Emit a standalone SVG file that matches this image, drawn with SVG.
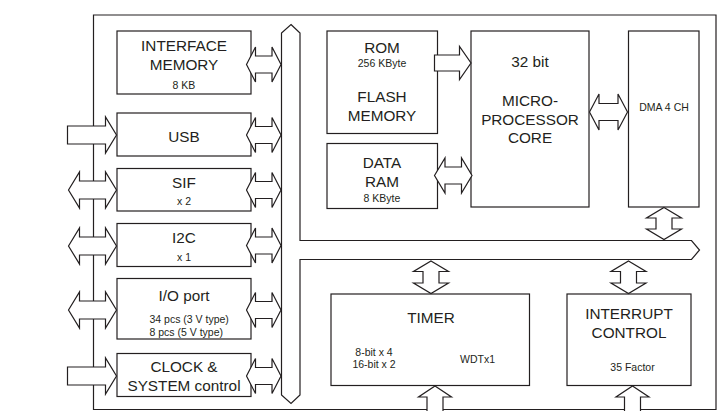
<svg xmlns="http://www.w3.org/2000/svg" width="717" height="411" viewBox="0 0 717 411">
<style>
.ln{fill:none;stroke:#231f20;stroke-width:1.2}
.bx{fill:#fff;stroke:#231f20;stroke-width:1.2}
.ar{fill:#fff;stroke:#231f20;stroke-width:1.2;stroke-linejoin:miter}
text{font-family:"Liberation Sans",Arial,Helvetica,sans-serif;fill:#231f20;text-anchor:middle}
.L{font-size:15.3px}
.S{font-size:10.5px}
</style>
<rect width="717" height="411" fill="#fff"/>
<g id="frame"><path class="ln" d="M93.5 409.5 L93.5 15 L716 15 L716 409.5 Z"/></g>
<g id="bus"><path class="ar" d="M291 24.5 L300 33 L300 240.5 L691.5 240.5 L699.5 250 L691.5 259.5 L300 259.5 L300 395 L291 403.5 L281.5 395 L281.5 33 Z"/></g>
<g id="interface-memory"><rect class="bx" x="117" y="31" width="134" height="63"/>
<text class="L" x="184" y="50.5">INTERFACE</text><text class="L" x="184" y="70">MEMORY</text><text class="S" x="184" y="89">8 KB</text></g>
<g id="usb"><rect class="bx" x="117" y="113" width="134" height="43"/><text class="L" x="184" y="141.7">USB</text></g>
<g id="sif"><rect class="bx" x="117" y="168.5" width="134" height="42.5"/><text class="L" x="184" y="187.5">SIF</text><text class="S" x="184" y="205">x 2</text></g>
<g id="i2c"><rect class="bx" x="117" y="223.5" width="134" height="43"/><text class="L" x="184" y="242.5">I2C</text><text class="S" x="184" y="260.7">x 1</text></g>
<g id="io-port"><rect class="bx" x="117" y="278.5" width="134" height="60.5"/><text class="L" x="184" y="300.5">I/O port</text>
<text class="S" x="149.5" y="322.5" style="text-anchor:start">34 pcs (3 V type)</text><text class="S" x="149.5" y="335.5" style="text-anchor:start">8 pcs (5 V type)</text></g>
<g id="clock"><rect class="bx" x="117" y="353.5" width="134" height="43"/><text class="L" x="184" y="372.3">CLOCK &amp;</text><text class="L" x="184" y="391">SYSTEM control</text></g>
<g id="flash"><rect class="bx" x="327" y="31" width="110.5" height="102.5"/><text class="L" x="382" y="53">ROM</text><text class="S" x="382" y="66.7">256 KByte</text><text class="L" x="382" y="101.7">FLASH</text><text class="L" x="382" y="120.5">MEMORY</text></g>
<g id="data-ram"><rect class="bx" x="327" y="143.5" width="110.5" height="65"/><text class="L" x="382" y="168.3">DATA</text><text class="L" x="382" y="187.3">RAM</text><text class="S" x="382" y="201.7">8 KByte</text></g>
<g id="cpu"><rect class="bx" x="471" y="31" width="118" height="176"/><text class="L" x="530" y="66.7">32 bit</text><text class="L" x="530" y="106">MICRO-</text><text class="L" x="530" y="125">PROCESSOR</text><text class="L" x="530" y="143.3">CORE</text></g>
<g id="dma"><rect class="bx" x="628.5" y="31" width="70.5" height="176"/><text class="S" x="664" y="111">DMA 4 CH</text></g>
<g id="timer"><rect class="bx" x="331" y="294" width="198.5" height="91.5"/><text class="L" x="431" y="323.3">TIMER</text><text class="S" x="374" y="356">8-bit x 4</text><text class="S" x="374" y="368.3">16-bit x 2</text><text class="S" x="477.5" y="363.3">WDTx1</text></g>
<g id="interrupt"><rect class="bx" x="567" y="294" width="124" height="91.5"/><text class="L" x="629" y="319.3">INTERRUPT</text><text class="L" x="629" y="338.3">CONTROL</text><text class="S" x="632.5" y="370.7">35 Factor</text></g>
<g id="connectors">
<path class="ar" d="M246.5 64.5 L255.5 47 L255.5 56 L272 56 L272 47 L281 64.5 L272 82 L272 73 L255.5 73 L255.5 82 Z"/>
<path class="ar" d="M246.5 135 L255.5 117.5 L255.5 126.5 L272 126.5 L272 117.5 L281 135 L272 152.5 L272 143.5 L255.5 143.5 L255.5 152.5 Z"/>
<path class="ar" d="M246.5 190 L255.5 172.5 L255.5 181.5 L272 181.5 L272 172.5 L281 190 L272 207.5 L272 198.5 L255.5 198.5 L255.5 207.5 Z"/>
<path class="ar" d="M246.5 245.5 L255.5 228 L255.5 237 L272 237 L272 228 L281 245.5 L272 263 L272 254 L255.5 254 L255.5 263 Z"/>
<path class="ar" d="M246.5 310 L255.5 292.5 L255.5 301.5 L272 301.5 L272 292.5 L281 310 L272 327.5 L272 318.5 L255.5 318.5 L255.5 327.5 Z"/>
<path class="ar" d="M246.5 376 L255.5 358.5 L255.5 367.5 L272 367.5 L272 358.5 L281 376 L272 393.5 L272 384.5 L255.5 384.5 L255.5 393.5 Z"/>
<path class="ar" d="M67.5 126 L105.5 126 L105.5 117 L116.5 135 L105.5 153 L105.5 144 L67.5 144 Z"/>
<path class="ar" d="M68.5 190 L79.5 172 L79.5 181 L105.5 181 L105.5 172 L116.5 190 L105.5 208 L105.5 199 L79.5 199 L79.5 208 Z"/>
<path class="ar" d="M68.5 246 L79.5 228 L79.5 237 L105.5 237 L105.5 228 L116.5 246 L105.5 264 L105.5 255 L79.5 255 L79.5 264 Z"/>
<path class="ar" d="M68.5 310 L79.5 292 L79.5 301 L105.5 301 L105.5 292 L116.5 310 L105.5 328 L105.5 319 L79.5 319 L79.5 328 Z"/>
<path class="ar" d="M67.5 367 L105.5 367 L105.5 358 L116.5 376 L105.5 394 L105.5 385 L67.5 385 Z"/>
<path class="ar" d="M434.5 55 L459.5 55 L459.5 46.5 L471 63 L459.5 79.5 L459.5 71 L434.5 71 Z"/>
<path class="ar" d="M434.5 175.5 L445 158 L445 167 L461.5 167 L461.5 158 L472 175.5 L461.5 193 L461.5 184 L445 184 L445 193 Z"/>
<path class="ar" d="M589.5 112 L599 94 L599 103.5 L618 103.5 L618 94 L627.5 112 L618 130 L618 120.5 L599 120.5 L599 130 Z"/>
<path class="ar" d="M664 207.5 L681.5 218 L672 218 L672 229 L681.5 229 L664 239.5 L646.5 229 L656 229 L656 218 L646.5 218 Z"/>
<path class="ar" d="M431 261 L448.5 271.5 L439 271.5 L439 283 L448.5 283 L431 293.5 L413.5 283 L423 283 L423 271.5 L413.5 271.5 Z"/>
<path class="ar" d="M628.5 261 L646 271.5 L636.5 271.5 L636.5 283 L646 283 L628.5 293.5 L611 283 L620.5 283 L620.5 271.5 L611 271.5 Z"/>
<path class="ar" d="M435 386 L451.5 397 L443 397 L443 413 L427 413 L427 397 L418.5 397 Z"/>
<path class="ar" d="M632.5 386 L649 397 L640.5 397 L640.5 413 L624.5 413 L624.5 397 L616 397 Z"/>
</g>
</svg>
